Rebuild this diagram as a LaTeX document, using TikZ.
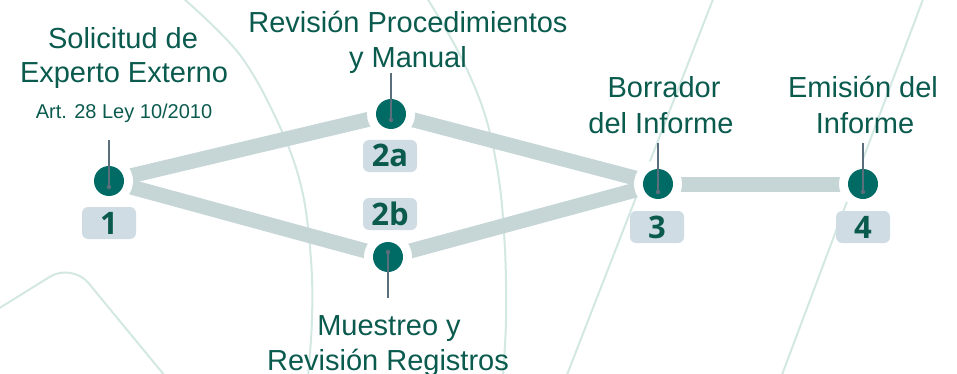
\documentclass[tikz,border=0pt]{standalone}
\usepackage{fontspec}
\setmainfont{Liberation Sans}
\newfontfamily\numfont{Open Sans}
\definecolor{txtcol}{HTML}{0A5A4E}
\definecolor{dotcol}{HTML}{006B64}
\definecolor{boxcol}{HTML}{CFDCE3}
\definecolor{conncol}{HTML}{C6D6D6}
\definecolor{bgcol}{HTML}{D3E8E3}
\definecolor{stemcol}{HTML}{5B6E7C}
\pgfdeclarelayer{bg}
\pgfsetlayers{bg,main}
\tikzset{
  bgline/.style={draw=bgcol, line width=2pt},
  conn/.style={draw=conncol, line width=15pt},
  halo/.style={circle, fill=white, minimum size=48pt, inner sep=0pt},
  dotnode/.style={circle, fill=dotcol, minimum size=30pt, inner sep=0pt},
  stem/.style={draw=stemcol, line width=1.8pt},
  stemend/.style={circle, fill=stemcol, minimum size=4.5pt, inner sep=0pt},
  numbox/.style={rounded corners=6pt, fill=boxcol, minimum width=54pt, minimum height=32pt,
    inner sep=0pt, text=txtcol, font=\numfont\bfseries\fontsize{31}{31}\selectfont,
    text height=22pt, text depth=0pt},
  lbl/.style={anchor=base, text=txtcol, inner sep=0pt, font=\fontsize{29}{35}\selectfont},
  smalllbl/.style={anchor=base, text=txtcol, inner sep=0pt, font=\fontsize{20}{24}\selectfont},
}
\begin{document}
\begin{tikzpicture}[x=1pt,y=-1pt]
\useasboundingbox (0,0) rectangle (957,374);

% nodes
\node[halo] (h1) at (109,181) {};
\node[halo] (h2a) at (391,114) {};
\node[halo] (h2b) at (388,257) {};
\node[halo] (h3) at (658,184) {};
\node[halo] (h4) at (863,184) {};
\node[dotnode] (n1) at (h1) {};
\node[dotnode] (n2a) at (h2a) {};
\node[dotnode] (n2b) at (h2b) {};
\node[dotnode] (n3) at (h3) {};
\node[dotnode] (n4) at (h4) {};

% background and connectors
\begin{pgfonlayer}{bg}
  \draw[bgline] plot[smooth, tension=0.6] coordinates {(183,-2) (240,55) (280,127) (302,190) (311,260) (312,320) (308,376)};
  \draw[bgline] plot[smooth, tension=0.6] coordinates {(427,-2) (460,55) (485,115) (499,180) (505,250) (506,320) (503,376)};
  \draw[bgline, rounded corners=26pt] (-2,309) -- (72,263) -- (165,376);
  \draw[bgline] (713.5,-2) -- (566.5,376);
  \draw[bgline] (923.5,-2) -- (781.5,376);
  \draw[conn] (n1.center) -- (n2a.center);
  \draw[conn] (n1.center) -- (n2b.center);
  \draw[conn] (n2a.center) -- (n3.center);
  \draw[conn] (n2b.center) -- (n3.center);
  \draw[conn] (n3.center) -- (n4.center);
\end{pgfonlayer}

% stems
\node[stemend] (s1) at ([yshift=-6pt]n1.center) {};
\node[stemend] (s2a) at ([yshift=-6pt]n2a.center) {};
\node[stemend] (s2b) at ([yshift=5pt]n2b.center) {};
\node[stemend] (s3) at ([yshift=-8pt]n3.center) {};
\node[stemend] (s4) at ([yshift=-8pt]n4.center) {};
\coordinate (t1) at (109,140);
\coordinate (t2a) at (391,73);
\coordinate (t2b) at (388,298);
\coordinate (t3) at (658,143);
\coordinate (t4) at (863,143);
\draw[stem] (s1.center) -- (t1);
\draw[stem] (s2a.center) -- (t2a);
\draw[stem] (s2b.center) -- (t2b);
\draw[stem] (s3.center) -- (t3);
\draw[stem] (s4.center) -- (t4);

% number boxes
\node[numbox] (b1) at (109,223) {1};
\node[numbox] (b2a) at (390,156) {2a};
\node[numbox] (b2b) at (390,214) {2b};
\node[numbox] (b3) at (657,227) {3};
\node[numbox] (b4) at (863,227) {4};

% labels
\node[lbl] (l1a) at (123,49) {Solicitud de};
\node[lbl] (l1b) at (124,83) {Experto Externo};
\node[smalllbl] (l1c) at (124,119) {Art. 28 Ley 10/2010};
\node[lbl] (l2aa) at (408,33) {Revisión Procedimientos};
\node[lbl] (l2ab) at (408,68) {y Manual};
\node[lbl] (l3a) at (664,98) {Borrador};
\node[lbl] (l3b) at (661,134) {del Informe};
\node[lbl] (l4a) at (863,98) {Emisión del};
\node[lbl] (l4b) at (865,134) {Informe};
\node[lbl] (l2ba) at (389,335) {Muestreo y};
\node[lbl] (l2bb) at (388,370) {Revisión Registros};
\end{tikzpicture}
\end{document}
